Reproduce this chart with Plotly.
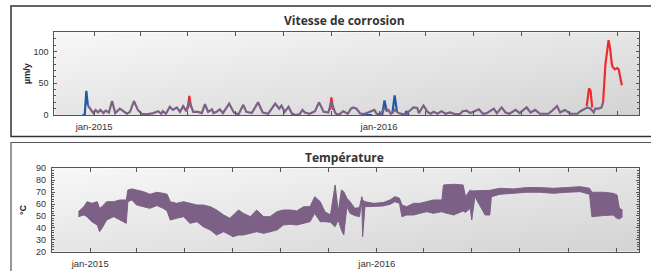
import base64
import pandas as pd
import plotly.graph_objects as go

# ---------------- data (days counted from 2015-01-01) ----------------
BASE = "2015-01-01"

# Vitesse de corrosion (µm/y) - main (purple) series
cor_days = [-8, -4, -1, 2, 5, 8, 12, 15, 19, 23, 27, 33, 37, 42, 46, 51, 56, 61, 67, 76,
            82, 86, 88, 92, 97, 101, 106, 110, 114, 118, 122, 127, 133, 138, 142, 146, 151, 153, 157, 161,
            165, 173, 179, 185, 191, 195, 202, 210, 216, 223, 232, 237, 240, 244, 249, 253, 257, 263, 267, 270,
            276, 283, 288, 294, 300, 304, 309, 313, 319, 325, 329, 332, 336, 341, 347, 359, 362, 366, 372, 377,
            380, 385, 390, 396, 400, 405, 409, 414, 416, 422, 427, 431, 435, 440, 445, 450, 456, 463, 469, 472,
            477, 482, 493, 498, 503, 512, 516, 522, 527, 532, 540, 545, 554, 559, 565, 571, 582, 586, 593, 597,
            603, 610, 619, 623, 628, 632, 636, 640, 642, 646, 650, 652]
cor_vals = [15, 8, 3, 8, 4, 8, 3, 7, 4, 22, 3, 10, 6, 2, 5, 22, 8, 2, 1, 3,
            6, 2, 6, 2, 13, 8, 12, 5, 14, 6, 22, 5, 5, 3, 17, 5, 9, 3, 5, 9,
            3, 18, 4, 1, 16, 5, 3, 20, 4, 2, 18, 10, 15, 5, 13, 3, 0, 1, 8, 4,
            2, 6, 20, 5, 4, 20, 3, 0, 6, 2, 10, 12, 10, 2, 2, 8, 2, 1, 10, 8,
            2, 8, 3, 1, 2, 8, 12, 11, 3, 15, 5, 2, 5, 2, 6, 2, 4, 1, 2, 6,
            7, 3, 9, 2, 3, 10, 3, 12, 4, 2, 8, 3, 12, 4, 8, 2, 2, 6, 14, 4,
            8, 2, 2, 6, 9, 12, 10, 4, 10, 10, 12, 20]

# red segments
red_days = [120, 122, 124, 125, 302, 304, 306, 307, 631, 634, 636, 638, 639,
            652, 655, 659, 661, 663, 664, 667, 670, 672, 676]
red_vals = [10, 30, 12, None, 8, 28, 8, None, 14, 42, 38, 12, None,
            20, 80, 118, 105, 82, 76, 72, 74, 72, 47]

# blue segments
blue_days = [-15, -12, -10, -8, -7, 253, 257, 263, 264, 311, 313, 316, 317,
             343, 356, 357, 369, 372, 375, 376, 382, 385, 388, 389, 398, 400, 403]
blue_vals = [0, 0, 38, 15, None, 2, 0, 0, None, 2, 0, 1, None,
             0, 0, None, 0, 23, 5, None, 2, 31, 5, None, 0, 6, 0]

# Température (°C) - envelope of the dense series
tmp_days = [-15, -8, -4, 2, 9, 12, 15, 21, 30, 38, 46, 48, 53, 59, 68, 76, 85, 93, 98, 102,
            110, 119, 127, 136, 144, 153, 161, 170, 178, 182, 189, 195, 204, 212, 221, 229, 238, 246, 255, 263,
            272, 280, 286, 293, 299, 306, 312, 316, 320, 323, 327, 331, 337, 343, 346, 347, 350, 361, 373, 382,
            388, 394, 397, 403, 412, 420, 429, 437, 448, 450, 463, 475, 478, 484, 486, 490, 503, 509, 511, 522,
            539, 556, 573, 590, 607, 624, 636, 639, 653, 666, 671, 674, 678]
tmp_hi = [53.6, 57.8, 62, 60.6, 62, 56.4, 57.8, 62, 62, 63.4, 63.4, 71.8, 72.7, 71.8, 70.4, 68.2, 69.9, 69, 68.2, 62,
          60.6, 62, 60.6, 59.2, 59.2, 57.8, 55, 50.8, 48, 50.8, 55, 52.2, 49.4, 55, 49.4, 49.4, 53.6, 55, 55, 54.2,
          57.8, 57.8, 66.2, 62, 53.6, 50.8, 76, 53.6, 71.8, 70.4, 64.8, 62, 56.4, 57, 66.2, 63.4, 62, 60.6, 61.2, 63.4,
          66.2, 64.8, 59.2, 57.8, 60.6, 60.6, 62, 63.4, 63.4, 76, 76.6, 76, 66.2, 71.8, 71, 71, 71, 71.5, 71.8, 73.2,
          72.7, 73.8, 73.8, 73.2, 73.8, 74.6, 73.2, 69.9, 69.9, 69, 67.6, 56.4, 55]
tmp_lo = [49.4, 50.8, 49.4, 45.2, 42.4, 36.8, 39.6, 46.6, 49.4, 46.6, 43.8, 62, 63.4, 59.2, 57.8, 56.4, 58.7, 56.4, 54.2, 46.6,
          48, 49.4, 43.8, 45.2, 41, 38.2, 34, 36.8, 34, 32.6, 34, 34, 35.4, 36.8, 35.4, 36.8, 38.2, 42.4, 43, 42.4,
          43.8, 45.2, 52.2, 45.2, 45.2, 44.7, 41, 46.6, 38.2, 34, 57.8, 52.2, 50.3, 49.4, 62, 32.6, 57.8, 57.8, 58.4, 59.8,
          62, 60.6, 49.4, 50.8, 50.8, 52.2, 53.6, 52.2, 53.6, 53, 50.8, 54.2, 53, 56.4, 46.6, 66.2, 50.8, 50.8, 66.2, 68.2,
          69, 69.9, 69.9, 69, 69.9, 70.4, 68.2, 49.4, 50.3, 50.8, 48, 47.5, 49.4]

tick_vals = ["2015-01-01", "2016-01-01"]
tick_text = ["jan-2015", "jan-2016"]
titles = ["Vitesse de corrosion", "Température"]
y_titles = ["µm/y", "°C"]


def to_dates(days):
    b = pd.Timestamp(BASE)
    return [(b + pd.Timedelta(days=d)).strftime("%Y-%m-%d") for d in days]


PURPLE = "#7c6086"
RED = "#ee2b2d"
BLUE = "#2258aa"
W, H = 651, 271


def px_x(p):
    return p / W


def px_y(p):
    return 1 - p / H


fig = go.Figure()
fig.add_trace(go.Scatter(x=to_dates(blue_days), y=blue_vals, mode="lines",
                         line=dict(color=BLUE, width=2.2), xaxis="x", yaxis="y",
                         connectgaps=False, hoverinfo="skip"))
fig.add_trace(go.Scatter(x=to_dates(red_days), y=red_vals, mode="lines",
                         line=dict(color=RED, width=2.2), xaxis="x", yaxis="y",
                         connectgaps=False, hoverinfo="skip"))
fig.add_trace(go.Scatter(x=to_dates(cor_days), y=cor_vals, mode="lines",
                         line=dict(color=PURPLE, width=2.2), xaxis="x", yaxis="y",
                         hoverinfo="skip"))
fig.add_trace(go.Scatter(x=to_dates(tmp_days), y=tmp_hi, mode="lines",
                         line=dict(color=PURPLE, width=1), xaxis="x2", yaxis="y2",
                         hoverinfo="skip"))
fig.add_trace(go.Scatter(x=to_dates(tmp_days), y=tmp_lo, mode="lines",
                         line=dict(color=PURPLE, width=1), fill="tonexty",
                         fillcolor=PURPLE, xaxis="x2", yaxis="y2", hoverinfo="skip"))

xtick_font = dict(family="Liberation Sans, Arial", size=9.5, color="#333333")
ytick_font = dict(family="Liberation Sans, Arial", size=9, color="#333333")
LINEC = "#555555"

top_range = to_dates([-51, 698])
bot_range = to_dates([-49, 699])
top_xdom = [px_x(54.3), px_x(639)]
bot_xdom = [px_x(51.7), px_x(639)]
top_ydom = [px_y(115), px_y(32.3)]
bot_ydom = [px_y(251.7), px_y(168.3)]


def xaxis_main(dom, rng, anchor):
    return dict(domain=dom, range=rng, type="date", anchor=anchor,
                showgrid=False, zeroline=False, showline=True, linecolor=LINEC,
                linewidth=1, mirror="ticks", ticks="inside", ticklen=4,
                tickcolor=LINEC, tickvals=tick_vals, ticktext=tick_text,
                tickfont=xtick_font, ticklabelstandoff=3,
                minor=dict(ticks="inside", ticklen=4, tickcolor=LINEC,
                           dtick="M2", tick0="2015-01-01", showgrid=False))


def xaxis_over(rng, over, anchor):
    return dict(overlaying=over, range=rng, type="date", anchor=anchor,
                showgrid=False, zeroline=False, showline=False,
                ticks="outside", ticklen=4, tickcolor=LINEC,
                tickvals=tick_vals, showticklabels=False,
                minor=dict(ticks="outside", ticklen=4, tickcolor=LINEC,
                           dtick="M2", tick0="2015-01-01", showgrid=False))


def yaxis_main(dom, rng, anchor, dtick, mdtick, title, standoff):
    return dict(domain=dom, range=rng, anchor=anchor, showgrid=False,
                zeroline=False, showline=True, linecolor=LINEC, linewidth=1,
                mirror="ticks", ticks="inside", ticklen=3, tickcolor=LINEC,
                dtick=dtick, tick0=0, tickfont=ytick_font, ticklabelstandoff=3,
                title=dict(text="<b>" + title + "</b>", standoff=standoff,
                           font=dict(family="Liberation Sans, Arial", size=9,
                                     color="#222222")),
                minor=dict(ticks="inside", ticklen=2, tickcolor=LINEC,
                           dtick=mdtick, showgrid=False))


def yaxis_over(rng, over, anchor, dtick, mdtick):
    return dict(overlaying=over, range=rng, anchor=anchor, side="left",
                showgrid=False, zeroline=False, showline=False,
                ticks="outside", ticklen=3, tickcolor=LINEC, dtick=dtick, tick0=0,
                showticklabels=False,
                minor=dict(ticks="outside", ticklen=2, tickcolor=LINEC,
                           dtick=mdtick, showgrid=False))


svg = ("<svg xmlns='http://www.w3.org/2000/svg' width='100' height='100' "
       "viewBox='0 0 100 100' preserveAspectRatio='none'><defs>"
       "<linearGradient id='g' x1='0' y1='0' x2='1' y2='1'>"
       "<stop offset='0' stop-color='#f8f8f8'/><stop offset='1' stop-color='#d3d3d3'/>"
       "</linearGradient></defs><rect width='100' height='100' fill='url(#g)'/></svg>")
grad_src = "data:image/svg+xml;base64," + base64.b64encode(svg.encode()).decode()

fig.update_layout(
    width=W, height=H, autosize=False,
    margin=dict(l=0, r=0, t=0, b=0, pad=0, autoexpand=False),
    paper_bgcolor="white", plot_bgcolor="rgba(0,0,0,0)",
    showlegend=False,
    xaxis=xaxis_main(top_xdom, top_range, "y"),
    yaxis=yaxis_main(top_ydom, [0, 130.5], "x", 50, 10, y_titles[0], 1),
    xaxis2=xaxis_main(bot_xdom, bot_range, "y2"),
    yaxis2=yaxis_main(bot_ydom, [20, 90], "x2", 10, 2, y_titles[1], 7),
    xaxis3=xaxis_over(top_range, "x", "y"),
    yaxis3=yaxis_over([0, 130.5], "y", "x", 50, 10),
    xaxis4=xaxis_over(bot_range, "x2", "y2"),
    yaxis4=yaxis_over([20, 90], "y2", "x2", 10, 2),
    images=[
        dict(source=grad_src, xref="x domain", yref="y domain", x=0, y=1,
             sizex=1, sizey=1, sizing="stretch", xanchor="left", yanchor="top",
             layer="below"),
        dict(source=grad_src, xref="x2 domain", yref="y2 domain", x=0, y=1,
             sizex=1, sizey=1, sizing="stretch", xanchor="left", yanchor="top",
             layer="below"),
    ],
    shapes=[
        dict(type="rect", xref="paper", yref="paper", x0=px_x(11), x1=1.05,
             y0=px_y(136.5), y1=px_y(6), line=dict(color="#333333", width=1.5)),
        dict(type="rect", xref="paper", yref="paper", x0=px_x(11), x1=1.05,
             y0=-0.1, y1=px_y(142.5), line=dict(color="#555555", width=1.2)),
    ],
    annotations=[
        dict(text="<b>" + titles[0] + "</b>", xref="paper", yref="paper",
             x=px_x(344), y=px_y(20), showarrow=False, xanchor="center",
             yanchor="middle", font=dict(family="Open Sans", size=12, color="#333333")),
        dict(text="<b>" + titles[1] + "</b>", xref="paper", yref="paper",
             x=px_x(344), y=px_y(157), showarrow=False, xanchor="center",
             yanchor="middle", font=dict(family="Open Sans", size=12, color="#333333")),
    ],
)

fig.write_html("out.html",
               config={"displayModeBar": False},
               post_script="document.body.style.margin='0';"
                           "document.body.style.overflow='hidden';")
